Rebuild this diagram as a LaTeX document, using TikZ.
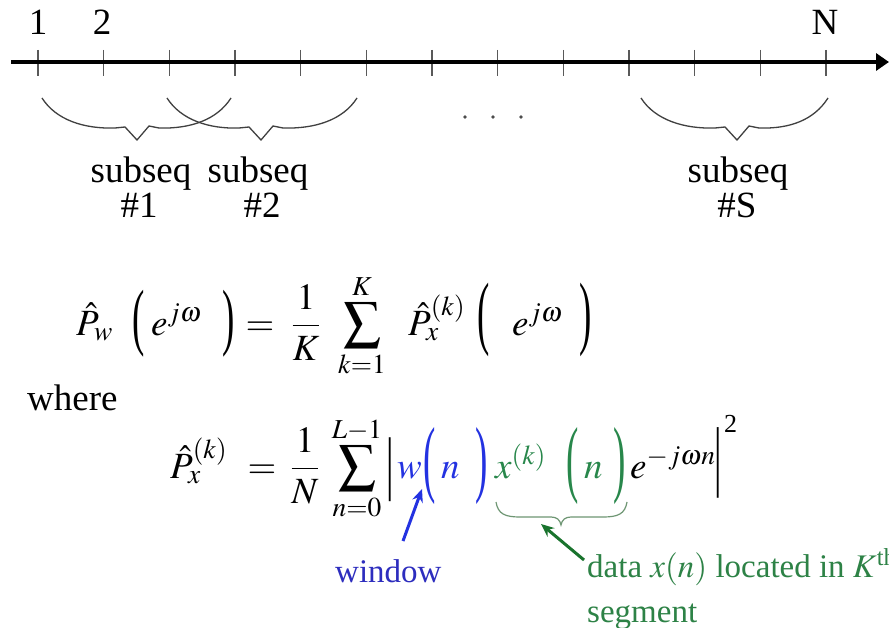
\documentclass[tikz,border=0pt]{standalone}
\usepackage{mathptmx}
\usepackage[no-math]{fontspec}
\setmainfont{Liberation Serif}
\usepackage{graphicx}
\usetikzlibrary{arrows.meta}
\definecolor{eqblue}{RGB}{35,50,225}
\definecolor{eqgreen}{RGB}{40,135,75}
\definecolor{arrgreen}{RGB}{25,115,45}
\definecolor{lblblue}{RGB}{45,45,190}
\definecolor{lblgreen}{RGB}{45,130,70}
\definecolor{bracegreen}{RGB}{110,150,115}
\begin{document}
\begin{tikzpicture}[x=1pt,y=-1pt,
  big/.style={inner sep=0pt, font=\fontsize{37}{44}\selectfont},
  lbl/.style={inner sep=0pt, font=\fontsize{33}{40}\selectfont},
  bw/.style={big, anchor=base west},
  bc/.style={big, anchor=base},
  par/.style={big, anchor=center},
  tick/.style={line width=1.4pt, draw=black!65},
  topbrace/.style={line width=1.3pt, draw=black!75},
  wtxt/.style={text=eqblue},
  gtxt/.style={text=eqgreen},
  ptr/.style={line width=3pt, -{Stealth[length=13pt,width=11pt]}}
]
\fill[white] (0,0) rectangle (889,628);
\useasboundingbox (0,0) rectangle (889,628);

% ---- axis ----
\coordinate (axL) at (11,62);
\coordinate (axR) at (889,62);
\foreach \i in {0,...,12} \draw[tick] (38+65.67*\i,50) -- (38+65.67*\i,76);
\draw[line width=4pt, -{Triangle[length=13pt,width=17pt]}] (axL) -- (axR);
\node[bc] (n1) at (38,35) {1};
\node[bc] (n2) at (102,35) {2};
\node[bc] (nN) at (825,35) {N};

% ---- braces ----
\draw[topbrace] (42,98) .. controls (56,120) and (84,129) .. (115,128) -- (125,127) -- (137,140) -- (149,126) -- (159,128) .. controls (190,129) and (217,120) .. (231,98);
\draw[topbrace] (167,98) .. controls (181,120) and (209,129) .. (239,128) -- (249,127) -- (261,140) -- (273,126) -- (283,128) .. controls (315,129) and (343,120) .. (357,98);
\draw[topbrace] (641,98) .. controls (655,120) and (684,129) .. (715,128) -- (725,127) -- (737,140) -- (749,126) -- (759,128) .. controls (790,129) and (814,120) .. (828,98);
\foreach \x in {465,493,521} \fill[black!70] (\x,117) circle (1.8);

\node[bc] (s1) at (141,183) {subseq};
\node[bc] (h1) at (139,218) {\#1};
\node[bc] (s2) at (258,183) {subseq};
\node[bc] (h2) at (262,218) {\#2};
\node[bc] (sS) at (738,183) {subseq};
\node[bc] (hS) at (737,218) {\#S};

% ---- equation 1 ----
\node[bw] (e1a) at (76,335) {$\hat{P}_{w}$};
\node[par] (e1p1) at (139,324) {\scalebox{1}[2.0]{(}};
\node[bw] (e1b) at (151,335) {$e^{j\omega}$};
\node[par] (e1p2) at (229,324) {\scalebox{1}[2.0]{)}};
\node[bc] (e1eq) at (260,335) {$=$};
\node[bc] (e1f) at (306,335) {$\displaystyle\frac{1}{K}$};
\node[bc] (e1s) at (362,335) {$\displaystyle\sum_{k=1}^{K}$};
\node[bw] (e1c) at (408,335) {$\hat{P}_{x}^{(k)}$};
\node[par] (e1p3) at (484,320) {\scalebox{1}[2.2]{(}};
\node[bw] (e1d) at (512,335) {$e^{j\omega}$};
\node[par] (e1p4) at (586,320) {\scalebox{1}[2.2]{)}};

\node[big, anchor=base west] (where) at (27,410) {where};

% ---- equation 2 ----
\node[bw] (e2a) at (170,478) {$\hat{P}_{x}^{(k)}$};
\node[bc] (e2eq) at (262,478) {$=$};
\node[bc] (e2f) at (305,478) {$\displaystyle\frac{1}{N}$};
\node[bc] (e2s) at (357,478) {$\displaystyle\sum_{n=0}^{L-1}$};
\node[par] (bar1) at (390,470) {\scalebox{1}[1.9]{|}};
\node[bw, wtxt] (w) at (397,478) {$w$};
\node[par, wtxt] (wp1) at (430,466) {\scalebox{1}[2.3]{(}};
\node[bw, wtxt] (wn) at (441,478) {$n$};
\node[par, wtxt] (wp2) at (482,466) {\scalebox{1}[2.3]{)}};
\node[bw, gtxt] (xk) at (495,478) {$x^{(k)}$};
\node[par, gtxt] (xp1) at (573,466) {\scalebox{1}[2.3]{(}};
\node[bw, gtxt] (xn) at (584,478) {$n$};
\node[par, gtxt] (xp2) at (620,466) {\scalebox{1}[2.3]{)}};
\node[bw] (ex) at (630,478) {$e^{-j\omega n}$};
\node[par] (bar2) at (718,463) {\scalebox{1}[2.1]{|}};
\node[inner sep=0pt, anchor=base west, font=\fontsize{26}{30}\selectfont] (sq) at (724,432) {2};

% green brace under x^(k)(n)
\draw[line width=1.2pt, draw=bracegreen] (496,502) .. controls (498,514) and (505,517) .. (520,517) -- (551,517) .. controls (557,517) and (560,520) .. (561,525) .. controls (562,520) and (565,517) .. (571,517) -- (603,517) .. controls (618,517) and (625,514) .. (627,502);

% ---- labels and pointers ----
\node[lbl, anchor=base west, text=lblblue] (win) at (335,582) {window};
\node[lbl, anchor=base west, text=lblgreen] (data) at (587,577) {data $x(n)$ located in $K$\textsuperscript{th}};
\node[lbl, anchor=base west, text=lblgreen] (seg) at (587,622) {segment};

\coordinate (wtail) at (403,541);
\coordinate (wtip) at (422,489);
\draw[ptr, draw=eqblue, fill=eqblue] (wtail) -- (wtip);
\coordinate (gtail) at (584,560);
\coordinate (gtip) at (541,524);
\draw[ptr, draw=arrgreen, fill=arrgreen] (gtail) -- (gtip);
\end{tikzpicture}
\end{document}
